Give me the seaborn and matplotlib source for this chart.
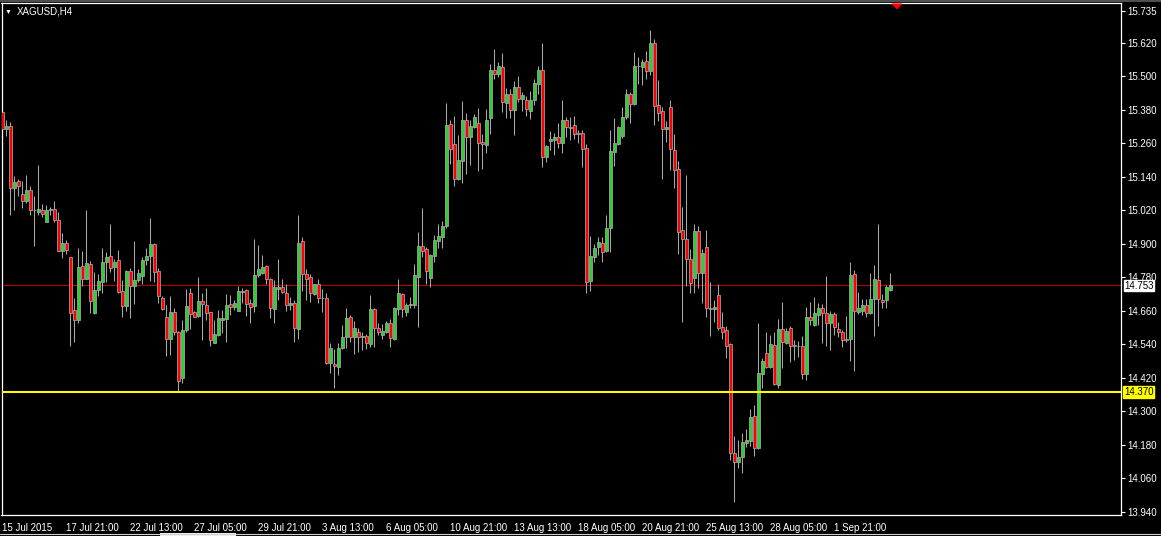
"""
XAGUSD H4 candlestick chart (MetaTrader style), 15 Jul - 4 Sep 2015.
"""

import matplotlib
matplotlib.use("Agg")
import matplotlib.pyplot as plt
import matplotlib.transforms as mtransforms
from matplotlib.patches import Rectangle
from matplotlib.lines import Line2D
import numpy as np
import seaborn as sns

# ---------------------------------------------------------------------------
# Data: H4 bars (one entry per bar)
# ---------------------------------------------------------------------------
open_ = [
    15.374, 15.311, 15.323, 15.102, 15.126, 15.079, 15.055, 15.094, 15.020, 15.016,
    15.021, 14.980, 15.020, 15.026, 14.986, 14.873, 14.903, 14.852, 14.664, 14.628,
    14.821, 14.776, 14.829, 14.651, 14.735, 14.762, 14.836, 14.857, 14.819, 14.842,
    14.731, 14.679, 14.802, 14.751, 14.771, 14.786, 14.841, 14.856, 14.900, 14.804,
    14.707, 14.639, 14.558, 14.657, 14.583, 14.421, 14.591, 14.723, 14.656, 14.642,
    14.695, 14.683, 14.655, 14.546, 14.575, 14.627, 14.632, 14.685, 14.675, 14.661,
    14.729, 14.735, 14.687, 14.677, 14.790, 14.797, 14.821, 14.776, 14.668, 14.739,
    14.745, 14.724, 14.681, 14.688, 14.596, 14.910, 14.794, 14.783, 14.719, 14.755,
    14.708, 14.705, 14.472, 14.469, 14.460, 14.526, 14.565, 14.638, 14.565, 14.583,
    14.565, 14.570, 14.541, 14.666, 14.600, 14.575, 14.586, 14.616, 14.561, 14.666,
    14.719, 14.657, 14.681, 14.681, 14.783, 14.891, 14.882, 14.777, 14.857, 14.912,
    14.926, 14.964, 15.329, 15.257, 15.134, 15.198, 15.344, 15.282, 15.320, 15.332,
    15.264, 15.256, 15.350, 15.522, 15.508, 15.533, 15.404, 15.436, 15.380, 15.462,
    15.421, 15.415, 15.378, 15.415, 15.474, 15.523, 15.213, 15.270, 15.272, 15.283,
    15.263, 15.344, 15.320, 15.325, 15.297, 15.297, 15.243, 14.768, 14.854, 14.890,
    14.902, 14.876, 14.957, 15.231, 15.259, 15.287, 15.356, 15.437, 15.401, 15.539,
    15.535, 15.554, 15.520, 15.619, 15.397, 15.376, 15.311, 15.389, 15.237, 15.167,
    14.949, 14.917, 14.845, 14.779, 14.946, 14.795, 14.888, 14.670, 14.668, 14.716,
    14.601, 14.590, 14.542, 14.150, 14.118, 14.135, 14.188, 14.195, 14.284, 14.168,
    14.433, 14.508, 14.458, 14.537, 14.395, 14.595, 14.546, 14.598, 14.538, 14.535,
    14.534, 14.433, 14.638, 14.608, 14.647, 14.670, 14.653, 14.618, 14.649, 14.594,
    14.584, 14.558, 14.558, 14.792, 14.656, 14.661, 14.680, 14.651, 14.702, 14.771,
    14.699, 14.698, 14.735,
]
high = [
    15.380, 15.344, 15.337, 15.144, 15.133, 15.126, 15.147, 15.108, 15.072, 15.183,
    15.042, 15.040, 15.034, 15.054, 15.016, 14.938, 14.915, 14.855, 14.706, 14.885,
    14.875, 15.022, 14.839, 14.800, 14.793, 14.886, 14.870, 14.972, 14.845, 14.879,
    14.771, 14.807, 14.813, 14.911, 14.811, 14.855, 14.884, 14.993, 14.905, 14.814,
    14.712, 14.682, 14.712, 14.671, 14.588, 14.627, 14.738, 14.744, 14.659, 14.780,
    14.723, 14.741, 14.657, 14.627, 14.663, 14.663, 14.719, 14.717, 14.701, 14.750,
    14.744, 14.738, 14.702, 14.916, 14.896, 14.860, 14.823, 14.778, 14.770, 14.846,
    14.774, 14.756, 14.710, 14.699, 15.003, 14.924, 14.810, 14.794, 14.757, 14.774,
    14.737, 14.723, 14.544, 14.522, 14.546, 14.609, 14.671, 14.645, 14.624, 14.598,
    14.586, 14.577, 14.717, 14.669, 14.618, 14.613, 14.625, 14.630, 14.675, 14.776,
    14.725, 14.690, 14.711, 14.828, 14.943, 15.029, 14.889, 14.865, 14.931, 14.970,
    14.982, 15.404, 15.344, 15.358, 15.290, 15.413, 15.368, 15.344, 15.366, 15.387,
    15.293, 15.383, 15.546, 15.598, 15.551, 15.584, 15.459, 15.456, 15.484, 15.502,
    15.444, 15.429, 15.448, 15.490, 15.538, 15.621, 15.254, 15.303, 15.299, 15.333,
    15.416, 15.356, 15.355, 15.358, 15.308, 15.308, 15.258, 14.928, 14.899, 14.924,
    14.926, 15.004, 15.308, 15.351, 15.323, 15.389, 15.455, 15.446, 15.587, 15.570,
    15.561, 15.590, 15.666, 15.634, 15.487, 15.389, 15.342, 15.416, 15.294, 15.198,
    15.034, 15.147, 14.882, 14.971, 14.965, 14.882, 14.950, 14.762, 14.699, 14.756,
    14.656, 14.606, 14.544, 14.212, 14.198, 14.221, 14.236, 14.309, 14.323, 14.616,
    14.490, 14.583, 14.574, 14.586, 14.630, 14.692, 14.598, 14.606, 14.556, 14.551,
    14.570, 14.673, 14.691, 14.709, 14.687, 14.685, 14.785, 14.660, 14.655, 14.620,
    14.592, 14.642, 14.836, 14.807, 14.728, 14.702, 14.702, 14.795, 14.825, 14.971,
    14.721, 14.753, 14.795,
]
low = [
    15.297, 15.288, 15.005, 15.020, 15.073, 15.030, 15.046, 15.004, 14.894, 15.004,
    14.997, 14.978, 15.004, 14.980, 14.873, 14.851, 14.864, 14.535, 14.547, 14.618,
    14.750, 14.774, 14.654, 14.648, 14.715, 14.726, 14.762, 14.799, 14.768, 14.726,
    14.639, 14.661, 14.636, 14.685, 14.762, 14.757, 14.825, 14.768, 14.762, 14.690,
    14.663, 14.497, 14.503, 14.574, 14.371, 14.403, 14.585, 14.595, 14.638, 14.639,
    14.556, 14.627, 14.535, 14.544, 14.570, 14.582, 14.550, 14.645, 14.663, 14.659,
    14.689, 14.642, 14.618, 14.657, 14.780, 14.792, 14.756, 14.635, 14.618, 14.699,
    14.725, 14.659, 14.663, 14.550, 14.560, 14.732, 14.699, 14.693, 14.716, 14.687,
    14.657, 14.470, 14.436, 14.385, 14.431, 14.523, 14.526, 14.550, 14.505, 14.512,
    14.520, 14.525, 14.532, 14.532, 14.574, 14.559, 14.582, 14.532, 14.557, 14.645,
    14.637, 14.643, 14.669, 14.670, 14.604, 14.854, 14.756, 14.747, 14.837, 14.887,
    14.884, 14.958, 15.186, 15.106, 15.129, 15.120, 15.152, 15.184, 15.315, 15.163,
    15.170, 15.227, 15.294, 15.490, 15.499, 15.374, 15.350, 15.350, 15.290, 15.407,
    15.378, 15.360, 15.349, 15.398, 15.438, 15.177, 15.195, 15.237, 15.219, 15.243,
    15.227, 15.284, 15.274, 15.275, 15.260, 15.177, 14.725, 14.733, 14.835, 14.860,
    14.836, 14.870, 14.872, 15.180, 15.254, 15.280, 15.349, 15.332, 15.398, 15.473,
    15.471, 15.492, 15.505, 15.327, 15.340, 15.134, 15.266, 15.164, 15.102, 14.864,
    14.620, 14.750, 14.725, 14.723, 14.743, 14.690, 14.639, 14.571, 14.621, 14.592,
    14.558, 14.493, 14.126, 13.977, 14.096, 14.081, 14.174, 14.177, 14.141, 14.165,
    14.385, 14.457, 14.456, 14.394, 14.383, 14.454, 14.543, 14.476, 14.484, 14.496,
    14.417, 14.413, 14.610, 14.605, 14.610, 14.546, 14.536, 14.521, 14.574, 14.565,
    14.532, 14.550, 14.481, 14.445, 14.649, 14.647, 14.639, 14.649, 14.571, 14.607,
    14.669, 14.672, 14.733,
]
close = [
    15.311, 15.323, 15.102, 15.121, 15.106, 15.055, 15.094, 15.020, 15.021, 15.026,
    15.009, 15.021, 15.027, 14.986, 14.875, 14.903, 14.880, 14.654, 14.628, 14.818,
    14.776, 14.832, 14.697, 14.734, 14.767, 14.835, 14.854, 14.815, 14.836, 14.729,
    14.676, 14.804, 14.751, 14.770, 14.796, 14.843, 14.857, 14.900, 14.801, 14.712,
    14.666, 14.558, 14.657, 14.583, 14.410, 14.591, 14.676, 14.650, 14.640, 14.695,
    14.686, 14.653, 14.557, 14.576, 14.633, 14.636, 14.683, 14.673, 14.687, 14.731,
    14.731, 14.686, 14.675, 14.788, 14.809, 14.816, 14.776, 14.671, 14.745, 14.745,
    14.729, 14.683, 14.688, 14.600, 14.905, 14.793, 14.775, 14.725, 14.755, 14.707,
    14.706, 14.472, 14.526, 14.461, 14.527, 14.566, 14.634, 14.567, 14.598, 14.565,
    14.570, 14.546, 14.666, 14.600, 14.586, 14.587, 14.616, 14.564, 14.672, 14.723,
    14.666, 14.680, 14.684, 14.788, 14.891, 14.876, 14.804, 14.859, 14.914, 14.928,
    14.963, 15.326, 15.239, 15.134, 15.200, 15.343, 15.282, 15.323, 15.354, 15.263,
    15.257, 15.344, 15.522, 15.508, 15.538, 15.407, 15.436, 15.380, 15.462, 15.418,
    15.435, 15.382, 15.416, 15.475, 15.523, 15.213, 15.252, 15.275, 15.283, 15.263,
    15.344, 15.320, 15.317, 15.295, 15.295, 15.241, 14.765, 14.857, 14.885, 14.906,
    14.872, 14.956, 15.233, 15.263, 15.319, 15.356, 15.437, 15.400, 15.538, 15.537,
    15.552, 15.520, 15.619, 15.395, 15.370, 15.311, 15.318, 15.239, 15.166, 14.944,
    14.917, 14.845, 14.761, 14.946, 14.795, 14.866, 14.672, 14.667, 14.673, 14.600,
    14.586, 14.536, 14.150, 14.118, 14.135, 14.189, 14.198, 14.279, 14.168, 14.436,
    14.479, 14.460, 14.542, 14.397, 14.595, 14.547, 14.588, 14.536, 14.535, 14.536,
    14.433, 14.638, 14.626, 14.651, 14.670, 14.651, 14.616, 14.649, 14.601, 14.583,
    14.555, 14.557, 14.788, 14.659, 14.669, 14.680, 14.651, 14.703, 14.773, 14.703,
    14.693, 14.745, 14.753,
]

# time axis labels, one every 16 bars
date_labels = [
    "15 Jul 2015", "17 Jul 21:00", "22 Jul 13:00", "27 Jul 05:00", "29 Jul 21:00",
    "3 Aug 13:00", "6 Aug 05:00", "10 Aug 21:00", "13 Aug 13:00", "18 Aug 05:00",
    "20 Aug 21:00", "25 Aug 13:00", "28 Aug 05:00", "1 Sep 21:00",
]
label_step = 16

price_ticks = [15.735, 15.620, 15.500, 15.380, 15.260, 15.140, 15.020, 14.900,
               14.780, 14.660, 14.540, 14.420, 14.300, 14.180, 14.060, 13.940]
bid_price = 14.753
level_price = 14.370
symbol_title = "XAGUSD,H4"

# colours (MT4 default "black" scheme)
BG = "#000000"
FG = "#ffffff"
WICK = "#a8a8a8"
BULL = "#32cd32"
BEAR = "#ff0000"
LEVEL = "#ffff00"

W, H = 1161, 536


def setup_style():
    sns.set_theme(style="dark", rc={
        "axes.facecolor": BG,
        "figure.facecolor": BG,
        "axes.edgecolor": FG,
        "text.color": FG,
        "xtick.color": FG,
        "ytick.color": FG,
    })
    plt.rcParams["font.family"] = ["Liberation Sans", "DejaVu Sans"]


def draw_candles(ax, o, h, l, c):
    """Wicks as vertical lines, bodies as bars with a grey outline."""
    x = np.arange(len(o))
    o, h, l, c = map(np.asarray, (o, h, l, c))
    ax.vlines(x, l, h, color=WICK, linewidth=0.75, zorder=2)

    bottom = np.minimum(o, c)
    height = np.maximum(np.abs(c - o), 0.0008)
    colors = np.where(c >= o, BULL, BEAR)
    ax.bar(x, height, bottom=bottom, width=0.8, color=colors,
           edgecolor=WICK, linewidth=0.55, zorder=3)


def main():
    setup_style()

    fig = plt.figure(figsize=(W / 100, H / 100), dpi=100)
    # plot frame in pixel units: left 1.5, right 1121, top 2.5, bottom 515
    ax = fig.add_axes([1.5 / W, (H - 515) / H, (1121 - 1.5) / W, (515 - 2.5) / H])

    draw_candles(ax, open_, high, low, close)

    # 4 px per bar
    ax.set_xlim(-0.2, -0.2 + (1121 - 1.5) / 4)
    ax.set_ylim(13.929, 15.765)

    # horizontal lines
    ax.axhline(level_price, color=LEVEL, linewidth=1.5, zorder=4)
    ax.axhline(bid_price, color="#c00000", linewidth=0.7, zorder=1)

    # x axis
    ax.set_xticks(np.arange(len(date_labels)) * label_step)
    ax.set_xticklabels(date_labels, ha="left")
    ax.tick_params(axis="x", direction="out", length=4, width=0.8,
                   colors=FG, labelsize=7, pad=1.5)

    # y axis on the right
    ax.yaxis.tick_right()
    ax.set_yticks(price_ticks)
    ax.set_yticklabels([f"{p:.3f}" for p in price_ticks])
    ax.tick_params(axis="y", direction="out", length=3, width=0.8,
                   colors=FG, labelsize=7, pad=1.5)

    for sp in ax.spines.values():
        sp.set_color(FG)
        sp.set_linewidth(0.9)
    ax.grid(False)

    # price boxes on the right scale (the bid box sits just under 14.780)
    tr = mtransforms.blended_transform_factory(ax.transAxes, ax.transData)
    ax.text(1.0027, bid_price - 0.002, f"{bid_price:.3f}", transform=tr, ha="left",
            va="center", fontsize=7, color="black", zorder=6, clip_on=False,
            bbox=dict(boxstyle="square,pad=0.05", fc="white", ec="white"))
    ax.text(1.0027, level_price, f"{level_price:.3f}", transform=tr, ha="left",
            va="center", fontsize=7, color="black", zorder=6, clip_on=False,
            bbox=dict(boxstyle="square,pad=0.1", fc=LEVEL, ec=LEVEL))

    # chart shift marker at the top
    trx = mtransforms.blended_transform_factory(ax.transData, ax.transAxes)
    ax.plot([223.3], [0.993], transform=trx, marker=[(-1, 0.5), (1, 0.5), (0, -0.5)],
            markersize=7, color=BEAR, clip_on=False, zorder=6)

    # symbol title
    fig.text(5 / W, 1 - 12 / H, "\u25bc", fontsize=5, color=FG, va="center", ha="left")
    fig.text(17 / W, 1 - 12 / H, symbol_title, fontsize=7, color=FG, va="center", ha="left")

    # window decoration: top strip and tab bar at the bottom
    fig.add_artist(Rectangle((0, 1 - 1.5 / H), 1, 1.5 / H, transform=fig.transFigure,
                             fc="#505050", ec="none"))
    fig.add_artist(Line2D([0, 1], [2.5 / H, 2.5 / H], transform=fig.transFigure,
                          color="#d0d0d0", linewidth=0.8))
    fig.add_artist(Rectangle((160 / W, 0), 76 / W, 3 / H, transform=fig.transFigure,
                             fc="#f0f0e6", ec="none"))

    fig.savefig("out.png", dpi=100, facecolor=BG)
    plt.close(fig)


if __name__ == "__main__":
    main()
